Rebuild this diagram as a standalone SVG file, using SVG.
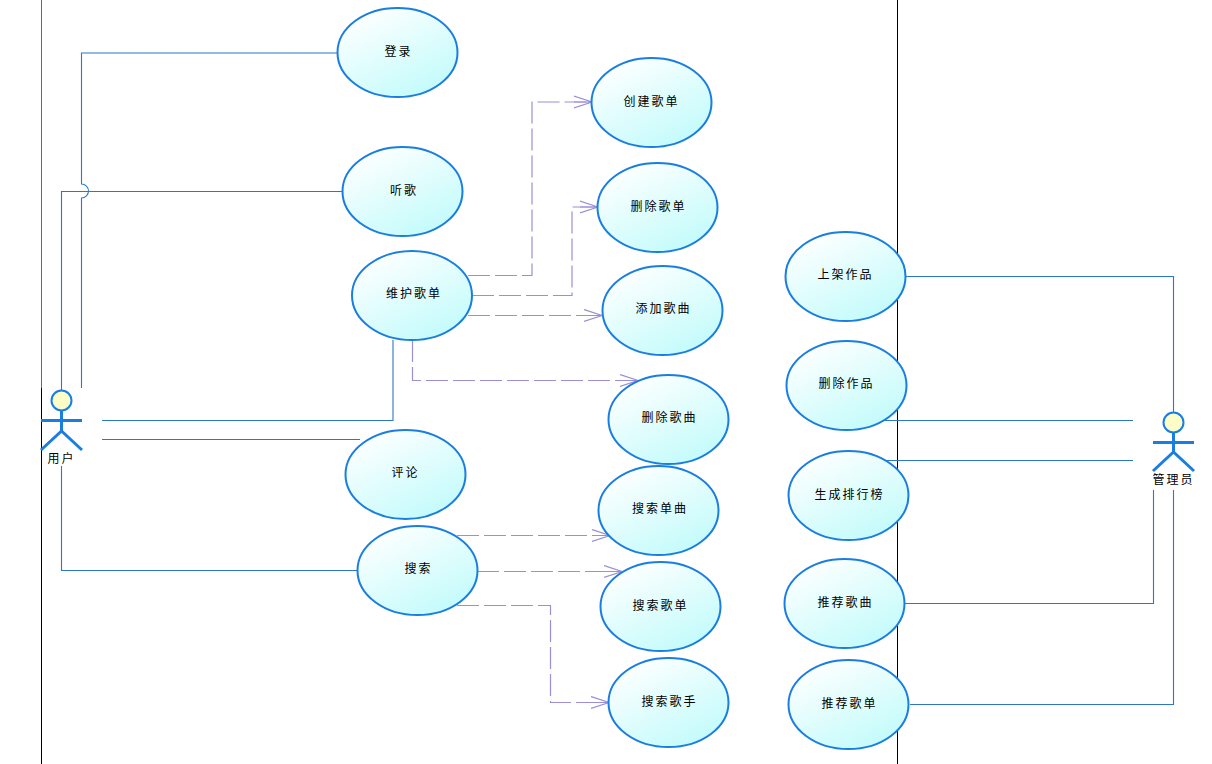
<svg xmlns="http://www.w3.org/2000/svg" width="1212" height="764" viewBox="0 0 1212 764">
<style>
text{font-family:"Noto Sans CJK SC","Liberation Sans",sans-serif;font-size:12px;fill:#000;text-anchor:middle;letter-spacing:2px}
.u ellipse{fill:url(#g);stroke:#1a7ee0;stroke-width:2}
.c{fill:none;stroke:#2b78c8;stroke-width:1.1}
.d{fill:none;stroke:#9a8fd8;stroke-width:1.2;stroke-dasharray:22 5;marker-end:url(#a)}
.a circle{fill:#fdfdc8;stroke:#1a7ee0;stroke-width:2}
.a path{fill:none;stroke:#1a7ee0;stroke-width:3}
</style>
<defs>
<linearGradient id="g" x1="0.15" y1="0.05" x2="0.75" y2="0.95"><stop offset="0" stop-color="#ffffff"/><stop offset="1" stop-color="#c4fbfb"/></linearGradient>
<marker id="a" markerUnits="userSpaceOnUse" markerWidth="20" markerHeight="14" refX="18" refY="7" orient="auto"><path d="M0 1L18 7L0 13M0 7H18" fill="none" stroke="#9a8fd8" stroke-width="1.2"/></marker>
</defs>
<rect width="1212" height="764" fill="#fff"/>
<path d="M41.500 0V388" stroke="#2b78c8" fill="none"/>
<path d="M41.500 388V764M897.500 0V764" stroke="#000" fill="none"/>
<g id="connectors">
<path class="c" d="M81.500 388V198a6.500 6.500 0 0 0 0-14V53H338"/>
<path class="c" d="M61.500 390V191.500H343"/>
<path class="c" d="M102 420.500H393V340"/>
<path class="c" d="M102 439.500H360"/>
<path class="c" d="M61.500 466V570.500H358"/>
<path class="c" d="M906 276.500H1173.500V412"/>
<path class="c" d="M884 420.500H1133"/>
<path class="c" d="M886 460.500H1133"/>
<path class="c" d="M905 603.500H1153.500V490"/>
<path class="c" d="M910 704.500H1173.500V490"/>
<path class="d" d="M468 275.500H532V102H592"/>
<path class="d" d="M472 295.500H572V207H598"/>
<path class="d" d="M468 315.500H602"/>
<path class="d" d="M412.500 340V380.500H638"/>
<path class="d" d="M457 535.500H610"/>
<path class="d" d="M477 571.500H622"/>
<path class="d" d="M457 605.500H550.500V702.500H609"/>
</g>
<g id="actor-user" class="a"><circle cx="61.500" cy="400.500" r="10"/><path d="M61.500 411V431M41 420.500H82M41 450L61.500 431L82 450"/><text x="61.500" y="463">用户</text></g>
<g id="actor-admin" class="a"><circle cx="1173.500" cy="422.500" r="10"/><path d="M1173.500 433V452M1153 442.500H1194M1153 471L1173.500 452L1194 471"/><text x="1173.500" y="484">管理员</text></g>
<g id="u1" class="u"><ellipse cx="397.500" cy="52.500" rx="60" ry="44.500"/><text x="398.500" y="56">登录</text></g>
<g id="u2" class="u"><ellipse cx="402.500" cy="191.500" rx="60" ry="44.500"/><text x="404" y="195">听歌</text></g>
<g id="u3" class="u"><ellipse cx="412" cy="295.500" rx="60" ry="44.500"/><text x="414" y="298">维护歌单</text></g>
<g id="u4" class="u"><ellipse cx="405.500" cy="474.500" rx="60" ry="44.500"/><text x="405.500" y="477">评论</text></g>
<g id="u5" class="u"><ellipse cx="417.500" cy="570.500" rx="60" ry="44.500"/><text x="418.500" y="573">搜索</text></g>
<g id="u6" class="u"><ellipse cx="651.500" cy="102.500" rx="60" ry="44.500"/><text x="651.500" y="106">创建歌单</text></g>
<g id="u7" class="u"><ellipse cx="657.500" cy="207.500" rx="60" ry="44.500"/><text x="658.500" y="211">删除歌单</text></g>
<g id="u8" class="u"><ellipse cx="662.500" cy="310.500" rx="60" ry="44.500"/><text x="663.500" y="313">添加歌曲</text></g>
<g id="u9" class="u"><ellipse cx="668.500" cy="419.500" rx="60" ry="44.500"/><text x="669.500" y="422">删除歌曲</text></g>
<g id="u10" class="u"><ellipse cx="658.500" cy="510.500" rx="60" ry="44.500"/><text x="660" y="513">搜索单曲</text></g>
<g id="u11" class="u"><ellipse cx="660.500" cy="606.500" rx="60" ry="44.500"/><text x="660.500" y="610">搜索歌单</text></g>
<g id="u12" class="u"><ellipse cx="668.500" cy="702.500" rx="60" ry="44.500"/><text x="669.500" y="706">搜索歌手</text></g>
<g id="u13" class="u"><ellipse cx="845.500" cy="276.500" rx="60" ry="44.500"/><text x="845.500" y="279">上架作品</text></g>
<g id="u14" class="u"><ellipse cx="846.500" cy="385.500" rx="60" ry="44.500"/><text x="846.500" y="388">删除作品</text></g>
<g id="u15" class="u"><ellipse cx="848.500" cy="495.500" rx="60" ry="44.500"/><text x="849.500" y="499">生成排行榜</text></g>
<g id="u16" class="u"><ellipse cx="844.500" cy="603.500" rx="60" ry="44.500"/><text x="845.500" y="607">推荐歌曲</text></g>
<g id="u17" class="u"><ellipse cx="848.500" cy="704.500" rx="60" ry="44.500"/><text x="849.500" y="708">推荐歌单</text></g>
</svg>
